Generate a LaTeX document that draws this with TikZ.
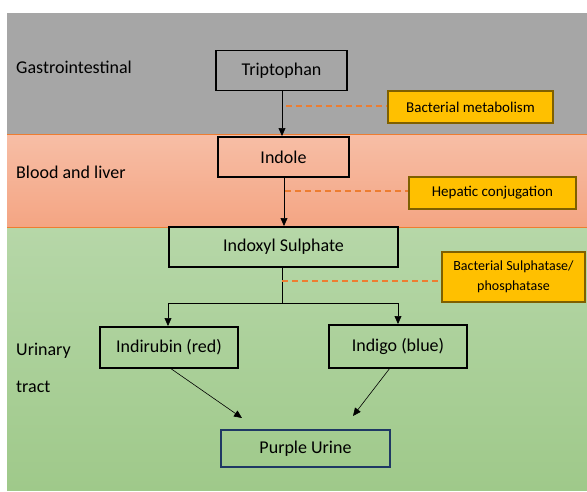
\documentclass[tikz,border=0pt]{standalone}
\usepackage{fontspec}
\setmainfont{Carlito}
\usetikzlibrary{arrows.meta}
\definecolor{bandgray}{HTML}{A6A6A6}
\definecolor{pinktop}{HTML}{F7BEA6}
\definecolor{pinkbot}{HTML}{F4A583}
\definecolor{greentop}{HTML}{B6D7A8}
\definecolor{greenbot}{HTML}{9FC98A}
\definecolor{bandedge}{HTML}{ED7D31}
\definecolor{goldfill}{HTML}{FFC000}
\definecolor{goldedge}{HTML}{7F6000}
\definecolor{navy}{HTML}{1F3864}
\definecolor{dashorange}{HTML}{ED7D31}
\begin{document}
\begin{tikzpicture}[x=1pt,y=-1pt,
  stepbox/.style={draw=black,line width=1.8pt,minimum height=40pt,inner sep=0pt,font=\fontsize{18}{20}\selectfont},
  notebox/.style={draw=goldedge,fill=goldfill,line width=2pt,inner sep=0pt,font=\fontsize{15}{17}\selectfont,align=center},
  zonelabel/.style={anchor=west,inner sep=0pt,font=\fontsize{18}{20}\selectfont},
  flow/.style={-{Triangle[length=8pt,width=7pt]},line width=0.6pt},
  plain/.style={line width=0.6pt},
  hint/.style={dashorange,line width=1.4pt,dash pattern=on 6pt off 4pt}]
\useasboundingbox (0,0) rectangle (587,491);
\fill[white] (0,0) rectangle (587,491);
% bands
\fill[bandgray] (7,13) rectangle (587,134);
\shade[top color=pinktop,bottom color=pinkbot] (7,134) rectangle (587,227);
\shade[top color=greentop,bottom color=greenbot] (7,227) rectangle (587,490);
\draw[bandedge,line width=0.8pt] (7,134) -- (587,134);
\draw[bandedge,line width=0.8pt] (7,227) -- (587,227);
% zone labels
\node[zonelabel] (gi) at (16,67) {Gastrointestinal};
\node[zonelabel] (bl) at (16,172) {Blood and liver};
\node[zonelabel] (ur1) at (16,351) {Urinary};
\node[zonelabel] (ur2) at (16,387) {tract};
% main boxes
\node[stepbox,minimum width=131pt] (trp) at (281.5,70.5) {Triptophan};
\node[stepbox,minimum width=131pt] (ind) at (283.5,157) {Indole};
\node[stepbox,minimum width=229pt] (ixs) at (283.5,247) {Indoxyl Sulphate};
\node[stepbox,minimum width=138pt,minimum height=41pt] (irb) at (169,347.5) {Indirubin (red)};
\node[stepbox,minimum width=138pt,minimum height=43pt] (igo) at (398,346.5) {Indigo (blue)};
\node[stepbox,draw=navy,minimum width=169pt,minimum height=37pt] (pur) at (305.5,448.5) {Purple Urine};
% note boxes
\node[notebox,minimum width=165pt,minimum height=32pt] (bm) at (470.5,107) {Bacterial metabolism};
\node[notebox,minimum width=167pt,minimum height=32pt] (hc) at (492.5,193) {Hepatic conjugation};
\node[notebox,minimum width=143pt,minimum height=50pt,font=\fontsize{14}{20}\selectfont] (bs) at (513.5,277) {Bacterial Sulphatase/\\phosphatase};
% coordinates
\coordinate (t1) at (282,91);
\coordinate (t2) at (282,136);
\coordinate (i1) at (284,178);
\coordinate (i2) at (284,226);
\coordinate (s1) at (282,267);
\coordinate (fork) at (282,303);
\coordinate (fl) at (168,303);
\coordinate (fr) at (398,303);
\coordinate (al) at (168,326);
\coordinate (ar) at (398,324);
\coordinate (r1) at (170,368);
\coordinate (r2) at (242,418);
\coordinate (g1) at (390,368);
\coordinate (g2) at (353,416);
\coordinate (h1) at (286,106);
\coordinate (h2) at (285,191);
\coordinate (h3) at (282,281);
% connectors
\draw[flow] (trp.south -| t1) -- (t2);
\draw[flow] (ind.south -| i1) -- (i2);
\draw[plain] (ixs.south -| s1) -- (fork);
\draw[plain] (fl) -- (fr);
\draw[flow] (fl) -- (al);
\draw[flow] (fr) -- (ar);
\draw[flow] (r1) -- (r2);
\draw[flow] (g1) -- (g2);
% dashed hints
\draw[hint] (h1) -- (bm.west |- h1);
\draw[hint] (h2) -- (hc.west |- h2);
\draw[hint] (h3) -- (bs.west |- h3);
\end{tikzpicture}
\end{document}
